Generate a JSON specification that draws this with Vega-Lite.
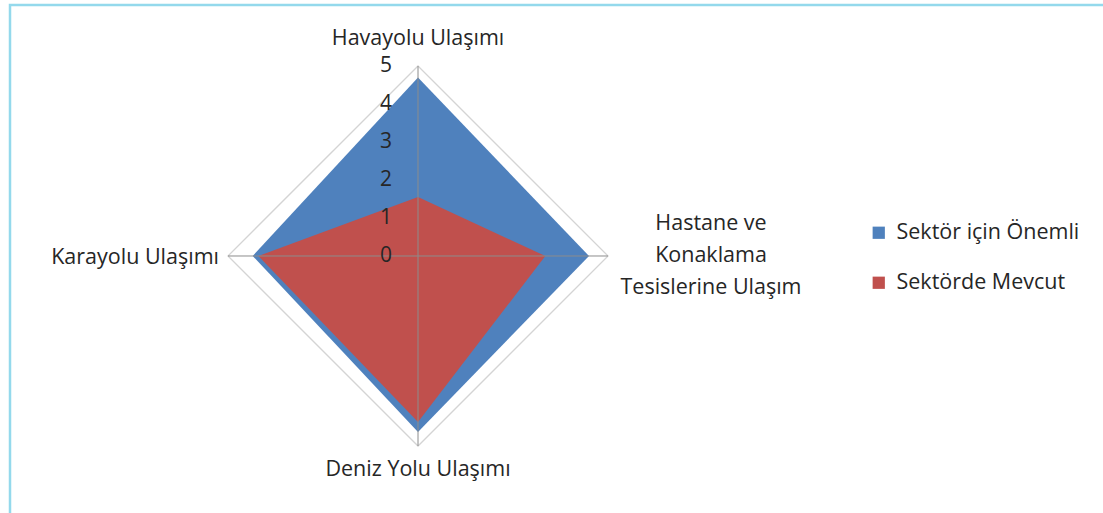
{
  "$schema": "https://vega.github.io/schema/vega-lite/v6.json",
  "width": 1093,
  "height": 508,
  "autosize": {"type": "none"},
  "padding": {"left": 10, "top": 5, "right": 0, "bottom": 0},
  "background": "white",
  "config": {
    "view": {"stroke": "#94d9ec", "strokeWidth": 2.5, "strokeDash": [1093, 1601, 508]},
    "font": "Open Sans",
    "text": {"font": "Open Sans", "fontSize": 21.5, "color": "#262626"}
  },
  "datasets": {
    "axes": [
      {"i": 0, "axis": "Havayolu Ulaşımı"},
      {"i": 1, "axis": "Hastane ve\nKonaklama\nTesislerine Ulaşım"},
      {"i": 2, "axis": "Deniz Yolu Ulaşımı"},
      {"i": 3, "axis": "Karayolu Ulaşımı"}
    ],
    "values": [
      {"i": 0, "axis": "Havayolu Ulaşımı", "series": "Sektör için Önemli", "value": 4.7},
      {"i": 1, "axis": "Hastane ve Konaklama Tesislerine Ulaşım", "series": "Sektör için Önemli", "value": 4.5},
      {"i": 2, "axis": "Deniz Yolu Ulaşımı", "series": "Sektör için Önemli", "value": 4.63},
      {"i": 3, "axis": "Karayolu Ulaşımı", "series": "Sektör için Önemli", "value": 4.35},
      {"i": 0, "axis": "Havayolu Ulaşımı", "series": "Sektörde Mevcut", "value": 1.55},
      {"i": 1, "axis": "Hastane ve Konaklama Tesislerine Ulaşım", "series": "Sektörde Mevcut", "value": 3.35},
      {"i": 2, "axis": "Deniz Yolu Ulaşımı", "series": "Sektörde Mevcut", "value": 4.37},
      {"i": 3, "axis": "Karayolu Ulaşımı", "series": "Sektörde Mevcut", "value": 4.2}
    ],
    "grid": [
      {"level": 1, "i": 0}, {"level": 1, "i": 1}, {"level": 1, "i": 2}, {"level": 1, "i": 3},
      {"level": 2, "i": 0}, {"level": 2, "i": 1}, {"level": 2, "i": 2}, {"level": 2, "i": 3},
      {"level": 3, "i": 0}, {"level": 3, "i": 1}, {"level": 3, "i": 2}, {"level": 3, "i": 3},
      {"level": 4, "i": 0}, {"level": 4, "i": 1}, {"level": 4, "i": 2}, {"level": 4, "i": 3},
      {"level": 5, "i": 0}, {"level": 5, "i": 1}, {"level": 5, "i": 2}, {"level": 5, "i": 3}
    ],
    "ticks": [{"t": 0}, {"t": 1}, {"t": 2}, {"t": 3}, {"t": 4}, {"t": 5}]
  },
  "layer": [
    {
      "data": {"name": "grid"},
      "transform": [
        {"calculate": "datum.level * sin(datum.i * PI / 2)", "as": "x"},
        {"calculate": "datum.level * cos(datum.i * PI / 2)", "as": "y"}
      ],
      "mark": {"type": "line", "interpolate": "linear-closed", "stroke": "#d4d4d4", "strokeWidth": 1.3},
      "encoding": {
        "x": {"field": "x", "type": "quantitative", "scale": {"domain": [-10.737, 18.026], "nice": false, "zero": false}, "axis": null},
        "y": {"field": "y", "type": "quantitative", "scale": {"domain": [-6.763, 6.605], "nice": false, "zero": false}, "axis": null},
        "detail": {"field": "level", "type": "nominal"},
        "order": {"field": "i", "type": "quantitative"}
      }
    },
    {
      "data": {"name": "values"},
      "transform": [
        {"calculate": "datum.value * sin(datum.i * PI / 2)", "as": "x"},
        {"calculate": "datum.value * cos(datum.i * PI / 2)", "as": "y"}
      ],
      "mark": {"type": "line", "interpolate": "linear-closed", "strokeWidth": 0},
      "encoding": {
        "x": {"field": "x", "type": "quantitative", "scale": {"domain": [-10.737, 18.026], "nice": false, "zero": false}, "axis": null},
        "y": {"field": "y", "type": "quantitative", "scale": {"domain": [-6.763, 6.605], "nice": false, "zero": false}, "axis": null},
        "fill": {
          "field": "series", "type": "nominal",
          "scale": {"domain": ["Sektör için Önemli", "Sektörde Mevcut"], "range": ["#4f81bd", "#c0504d"]},
          "legend": {
            "title": null, "orient": "none", "legendX": 858, "legendY": 217,
            "symbolType": "square", "symbolSize": 150, "symbolStrokeWidth": 0,
            "labelFont": "Open Sans", "labelFontSize": 21.5, "labelColor": "#262626",
            "labelOffset": 7, "rowPadding": 27, "labelLimit": 400
          }
        },
        "detail": {"field": "series", "type": "nominal"},
        "order": {"field": "i", "type": "quantitative"}
      }
    },
    {
      "data": {"name": "axes"},
      "transform": [
        {"calculate": "5 * sin(datum.i * PI / 2)", "as": "x5"},
        {"calculate": "5 * cos(datum.i * PI / 2)", "as": "y5"}
      ],
      "mark": {"type": "rule", "stroke": "#8c8c8c", "strokeWidth": 1},
      "encoding": {
        "x": {"field": "x5", "type": "quantitative", "scale": {"domain": [-10.737, 18.026], "nice": false, "zero": false}, "axis": null},
        "y": {"field": "y5", "type": "quantitative", "scale": {"domain": [-6.763, 6.605], "nice": false, "zero": false}, "axis": null},
        "x2": {"datum": 0},
        "y2": {"datum": 0}
      }
    },
    {
      "data": {"name": "ticks"},
      "transform": [{"calculate": "0", "as": "zx"}],
      "mark": {"type": "text", "align": "right", "baseline": "middle", "dx": -26, "fontSize": 21},
      "encoding": {
        "x": {"field": "zx", "type": "quantitative", "scale": {"domain": [-10.737, 18.026], "nice": false, "zero": false}, "axis": null},
        "y": {"field": "t", "type": "quantitative", "scale": {"domain": [-6.763, 6.605], "nice": false, "zero": false}, "axis": null},
        "text": {"field": "t", "type": "quantitative"}
      }
    },
    {
      "data": {"name": "axes"},
      "transform": [
        {"filter": "datum.i == 0"},
        {"calculate": "5 * sin(datum.i * PI / 2)", "as": "x5"},
        {"calculate": "5 * cos(datum.i * PI / 2)", "as": "y5"}
      ],
      "mark": {"type": "text", "align": "center", "baseline": "middle", "dy": -27},
      "encoding": {
        "x": {"field": "x5", "type": "quantitative", "scale": {"domain": [-10.737, 18.026], "nice": false, "zero": false}, "axis": null},
        "y": {"field": "y5", "type": "quantitative", "scale": {"domain": [-6.763, 6.605], "nice": false, "zero": false}, "axis": null},
        "text": {"field": "axis", "type": "nominal"}
      }
    },
    {
      "data": {"name": "axes"},
      "transform": [
        {"filter": "datum.i == 1"},
        {"calculate": "5 * sin(datum.i * PI / 2)", "as": "x5"},
        {"calculate": "5 * cos(datum.i * PI / 2)", "as": "y5"}
      ],
      "mark": {"type": "text", "align": "center", "baseline": "middle", "dx": 103, "dy": -32, "lineBreak": "\n", "lineHeight": 32},
      "encoding": {
        "x": {"field": "x5", "type": "quantitative", "scale": {"domain": [-10.737, 18.026], "nice": false, "zero": false}, "axis": null},
        "y": {"field": "y5", "type": "quantitative", "scale": {"domain": [-6.763, 6.605], "nice": false, "zero": false}, "axis": null},
        "text": {"field": "axis", "type": "nominal"}
      }
    },
    {
      "data": {"name": "axes"},
      "transform": [
        {"filter": "datum.i == 2"},
        {"calculate": "5 * sin(datum.i * PI / 2)", "as": "x5"},
        {"calculate": "5 * cos(datum.i * PI / 2)", "as": "y5"}
      ],
      "mark": {"type": "text", "align": "center", "baseline": "middle", "dy": 24},
      "encoding": {
        "x": {"field": "x5", "type": "quantitative", "scale": {"domain": [-10.737, 18.026], "nice": false, "zero": false}, "axis": null},
        "y": {"field": "y5", "type": "quantitative", "scale": {"domain": [-6.763, 6.605], "nice": false, "zero": false}, "axis": null},
        "text": {"field": "axis", "type": "nominal"}
      }
    },
    {
      "data": {"name": "axes"},
      "transform": [
        {"filter": "datum.i == 3"},
        {"calculate": "5 * sin(datum.i * PI / 2)", "as": "x5"},
        {"calculate": "5 * cos(datum.i * PI / 2)", "as": "y5"}
      ],
      "mark": {"type": "text", "align": "right", "baseline": "middle", "dx": -9, "dy": 2},
      "encoding": {
        "x": {"field": "x5", "type": "quantitative", "scale": {"domain": [-10.737, 18.026], "nice": false, "zero": false}, "axis": null},
        "y": {"field": "y5", "type": "quantitative", "scale": {"domain": [-6.763, 6.605], "nice": false, "zero": false}, "axis": null},
        "text": {"field": "axis", "type": "nominal"}
      }
    }
  ]
}
